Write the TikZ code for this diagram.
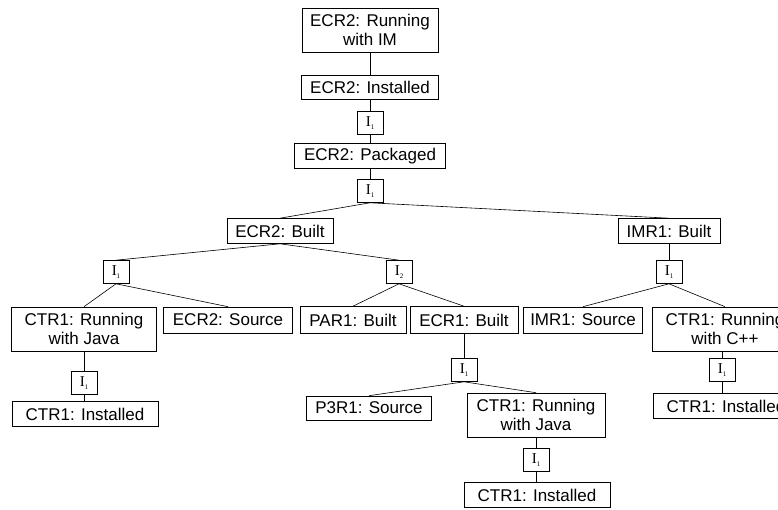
\documentclass[tikz,border=0pt]{standalone}
\usepackage{fontspec}
\setmainfont{Liberation Sans}
\newfontfamily\serifI{Liberation Serif}
\newcommand{\Isub}[1]{{\serifI\fontsize{15}{15}\selectfont I\raisebox{-3pt}{\fontsize{7}{7}\selectfont #1}}}
\begin{document}
\begin{tikzpicture}[x=1pt,y=-1pt,
  box/.style={draw, line width=0.6pt, inner sep=0pt, align=center,
    font=\fontsize{17}{19}\selectfont},
  ibox/.style={draw, line width=0.6pt, inner sep=0pt, minimum width=26pt, minimum height=23pt},
  conn/.style={line width=0.6pt}]
\useasboundingbox (0,0) rectangle (778,510);
\node[box, minimum width=136pt, minimum height=44pt] (run) at (370,30) {ECR2: Running\\with IM};
\node[box, minimum width=137pt, minimum height=24pt] (inst) at (370,87) {ECR2: Installed};
\node[ibox] (ia) at (370,123) {\Isub{1}};
\node[box, minimum width=151pt, minimum height=25pt] (pack) at (370,156) {ECR2: Packaged};
\node[ibox] (ib) at (370,191) {\Isub{1}};
\node[box, minimum width=106pt, minimum height=25pt] (ecrb) at (280,231) {ECR2: Built};
\node[box, minimum width=102pt, minimum height=25pt] (imrb) at (669,231) {IMR1: Built};
\node[ibox] (ic) at (116,272) {\Isub{1}};
\node[ibox] (itwo) at (399,272) {\Isub{2}};
\node[ibox] (id) at (669,272) {\Isub{1}};
\node[box, minimum width=145pt, minimum height=44pt] (ctrj) at (84,329) {CTR1: Running\\with Java};
\node[box, minimum width=129pt, minimum height=26pt] (ecrs) at (228,320) {ECR2: Source};
\node[box, minimum width=106pt, minimum height=27pt] (parb) at (353,320) {PAR1: Built};
\node[box, minimum width=108pt, minimum height=27pt] (ecrone) at (464,320) {ECR1: Built};
\node[box, minimum width=119pt, minimum height=26pt] (imrs) at (583,320) {IMR1: Source};
\node[box, minimum width=145pt, minimum height=44pt] (ctrc) at (725,329) {CTR1: Running\\with C++};
\node[ibox] (ie) at (84,383) {\Isub{1}};
\node[box, minimum width=146pt, minimum height=25pt] (ctria) at (85,414) {CTR1: Installed};
\node[ibox] (if) at (464,370) {\Isub{1}};
\node[box, minimum width=125pt, minimum height=24pt] (p3rs) at (369,408) {P3R1: Source};
\node[box, minimum width=138pt, minimum height=44pt] (ctrjb) at (536,415) {CTR1: Running\\with Java};
\node[ibox] (ig) at (536,460) {\Isub{1}};
\node[box, minimum width=146pt, minimum height=25pt] (ctrib) at (537,495) {CTR1: Installed};
\node[ibox] (ih) at (722,370) {\Isub{1}};
\node[box, minimum width=146pt, minimum height=25pt] (ctric) at (726,406) {CTR1: Installed};
\draw[conn] (run.south) -- (inst.north);
\draw[conn] (inst.south) -- (ia.north);
\draw[conn] (ia.south) -- (pack.north);
\draw[conn] (pack.south) -- (ib.north);
\draw[conn] (ib.south) -- (ecrb.north);
\draw[conn] (ib.south) -- (imrb.north);
\draw[conn] (ecrb.south) -- (ic.north);
\draw[conn] (ecrb.south) -- (itwo.north);
\draw[conn] (imrb.south) -- (id.north);
\draw[conn] (ic.south) -- (ctrj.north);
\draw[conn] (ic.south) -- (ecrs.north);
\draw[conn] (itwo.south) -- (parb.north);
\draw[conn] (itwo.south) -- (ecrone.north);
\draw[conn] (id.south) -- (imrs.north);
\draw[conn] (id.south) -- (ctrc.north);
\draw[conn] (ctrj.south) -- (ie.north);
\draw[conn] (ie.south) -- (ctria.north -| ie.south);
\draw[conn] (ecrone.south) -- (if.north);
\draw[conn] (if.south) -- (p3rs.north);
\draw[conn] (if.south) -- (ctrjb.north);
\draw[conn] (ctrjb.south) -- (ig.north);
\draw[conn] (ig.south) -- (ctrib.north -| ig.south);
\draw[conn] (ctrc.south -| ih.north) -- (ih.north);
\draw[conn] (ih.south) -- (ctric.north -| ih.south);
\end{tikzpicture}
\end{document}
